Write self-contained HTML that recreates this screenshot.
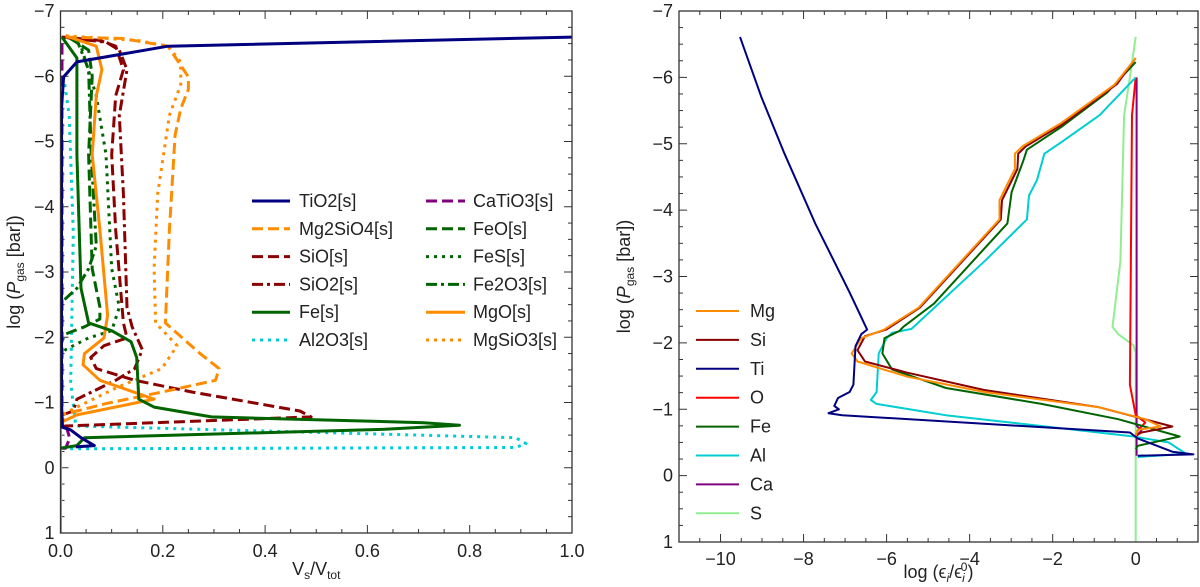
<!DOCTYPE html>
<html><head><meta charset="utf-8"><style>
body{margin:0;background:#fff;}
svg text{font-family:"Liberation Sans","DejaVu Sans",sans-serif;fill:#222;}
</style></head><body>
<svg id="fig" width="1200" height="582" xmlns="http://www.w3.org/2000/svg"></svg>
<script>
// ---------- Left panel data: [V_s/V_tot, log Pgas] ----------
const tio2 = [[1.0,-6.6],[0.21,-6.46],[0.032,-6.22],[0.006,-5.99],[0.002,-5.5],[0.002,-1],[0.004,-0.62],[0.02,-0.58],[0.04,-0.46],[0.066,-0.34],[0.03,-0.32]];
const mg2sio4 = [[0.01,-6.6],[0.12,-6.58],[0.21,-6.46],[0.25,-5.99],[0.25,-5.8],[0.235,-5.5],[0.224,-5.1],[0.213,-3.64],[0.205,-2.22],[0.273,-1.75],[0.31,-1.52],[0.303,-1.34],[0.198,-1.16],[0.092,-0.99],[0.032,-0.87],[0.0,-0.81]];
const sio = [[0.002,-6.6],[0.077,-6.55],[0.108,-6.46],[0.123,-6.1],[0.108,-5.7],[0.1,-4.8],[0.108,-3.64],[0.123,-2.22],[0.13,-1.99],[0.085,-1.87],[0.059,-1.69],[0.07,-1.52],[0.145,-1.34],[0.258,-1.16],[0.468,-0.87],[0.49,-0.78],[0.01,-0.64],[0.0,-0.62]];
const sio2 = [[0.005,-6.6],[0.09,-6.52],[0.115,-6.4],[0.13,-6.1],[0.115,-5.4],[0.123,-4.2],[0.13,-2.46],[0.14,-2.16],[0.16,-1.81],[0.145,-1.52],[0.108,-1.34],[0.032,-1.05],[0.025,-0.87],[0.0,-0.8]];
const fe = [[0.003,-6.6],[0.032,-6.28],[0.032,-4.8],[0.04,-2.75],[0.055,-2.22],[0.1,-2.1],[0.138,-1.93],[0.149,-1.69],[0.153,-1.05],[0.183,-0.93],[0.295,-0.78],[0.71,-0.69],[0.78,-0.65],[0.634,-0.59],[0.047,-0.46],[0.032,-0.34],[0.0,-0.3]];
const al2o3 = [[0.006,-6.0],[0.017,-5.4],[0.025,-3.6],[0.02,-1.3],[0.03,-0.64],[0.89,-0.46],[0.91,-0.37],[0.89,-0.31],[0.017,-0.29]];
const catio3 = [[0.003,-6.5],[0.003,-0.7],[0.012,-0.62],[0.018,-0.45],[0.01,-0.3],[0.003,-0.3]];
const feo = [[0.015,-6.6],[0.055,-6.4],[0.062,-6.0],[0.055,-4.8],[0.062,-3.05],[0.077,-2.46],[0.077,-2.28],[0.047,-2.16],[0.01,-2.05],[0.0,-1.9]];
const fes = [[0.02,-6.6],[0.04,-6.46],[0.07,-5.7],[0.089,-4.8],[0.1,-3.05],[0.115,-2.46],[0.1,-2.1],[0.055,-1.99],[0.01,-1.81],[0.0,-1.7]];
const fe2o3 = [[0.03,-6.6],[0.055,-6.1],[0.06,-4.8],[0.07,-3.4],[0.055,-3.05],[0.032,-2.75],[0.0,-2.52]];
const mgo = [[0.01,-6.62],[0.07,-6.46],[0.081,-6.1],[0.07,-5.7],[0.062,-4.8],[0.077,-3.64],[0.092,-2.34],[0.085,-1.99],[0.047,-1.75],[0.044,-1.58],[0.077,-1.34],[0.183,-1.05],[0.032,-0.81],[0.0,-0.69],[0.0,1.0]];
const mgsio3 = [[0.01,-6.62],[0.15,-6.55],[0.21,-6.46],[0.235,-6.22],[0.235,-5.87],[0.213,-5.4],[0.19,-4.2],[0.183,-3.05],[0.186,-2.22],[0.228,-1.87],[0.198,-1.52],[0.108,-1.22],[0.032,-0.93],[0.0,-0.8]];
// ---------- Right panel data: [log eps/eps0, log Pgas] ----------
const elTi = [[-9.53,-6.61],[-9.02,-5.71],[-8.46,-4.85],[-7.72,-3.8],[-6.89,-2.76],[-6.47,-2.2],[-6.61,-2.13],[-6.75,-1.95],[-6.8,-1.37],[-6.89,-1.26],[-7.17,-1.17],[-7.26,-1.05],[-7.15,-1.0],[-7.4,-0.94],[-7.07,-0.91],[-0.14,-0.65],[0.05,-0.56],[0.88,-0.36],[1.39,-0.32],[0.05,-0.30]];
const elMg = [[0,-6.29],[-0.51,-5.89],[-1.8,-5.31],[-2.73,-4.96],[-2.91,-4.85],[-2.91,-4.62],[-3.28,-4.15],[-3.28,-3.86],[-5.23,-2.53],[-6.06,-2.2],[-6.61,-2.07],[-6.84,-1.84],[-6.7,-1.72],[-5.5,-1.49],[-3.65,-1.26],[-0.88,-1.03],[0.23,-0.85],[0.6,-0.74],[0.05,-0.69],[0,-0.6]];
const elSi = [[0,-6.29],[-0.45,-5.9],[-1.75,-5.3],[-2.65,-4.96],[-2.83,-4.85],[-2.85,-4.62],[-3.22,-4.15],[-3.25,-3.86],[-5.2,-2.53],[-6.01,-2.2],[-6.52,-2.1],[-6.7,-1.89],[-6.52,-1.72],[-5.5,-1.55],[-3.65,-1.29],[-0.88,-1.03],[0.88,-0.74],[0.14,-0.65],[0,-0.6]];
const elFe = [[0,-6.23],[-0.69,-5.77],[-1.8,-5.25],[-2.62,-4.91],[-2.71,-4.74],[-2.99,-4.27],[-3.09,-3.8],[-4.86,-2.59],[-5.6,-2.24],[-5.69,-2.18],[-6.05,-2.07],[-6.1,-1.84],[-5.87,-1.6],[-4.57,-1.32],[-2.27,-1.08],[-0.42,-0.85],[1.06,-0.59],[0.05,-0.45],[0,-0.4]];
const elAl = [[0,-6.0],[-0.87,-5.43],[-1.8,-5.02],[-2.2,-4.85],[-2.38,-4.45],[-2.57,-4.22],[-2.62,-3.86],[-3.64,-3.23],[-5.4,-2.21],[-5.87,-2.15],[-6.0,-2.07],[-6.19,-1.84],[-6.24,-1.26],[-6.38,-1.14],[-6.24,-1.08],[-4.58,-0.91],[-0.05,-0.59],[0.79,-0.5],[1.21,-0.33],[0.05,-0.28]];
const elO = [[0,-6.0],[-0.09,-5.43],[-0.14,-1.37],[0,-0.91],[0.23,-0.8],[0.05,-0.68],[0,-0.6]];
const elCa = [[0.02,-6.0],[0.02,-0.75],[0.14,-0.68],[0.02,-0.6],[0.02,-0.3]];
const elS = [[0,-6.61],[-0.14,-6.0],[-0.28,-5.43],[-0.37,-3.23],[-0.56,-2.24],[-0.42,-2.13],[-0.05,-1.96],[0,-1.85],[0,1.0]];

const leftTicksX = [0,0.2,0.4,0.6,0.8,1.0];
const leftTickLabelsX = ["0.0","0.2","0.4","0.6","0.8","1.0"];
const rightTicksX = [-10,-8,-6,-4,-2,0];
const rightTickLabelsX = ["\u221210","\u22128","\u22126","\u22124","\u22122","0"];
const ticksY = [-7,-6,-5,-4,-3,-2,-1,0,1];
const tickLabelsY = ["\u22127","\u22126","\u22125","\u22124","\u22123","\u22122","\u22121","0","1"];

const NS="http://www.w3.org/2000/svg";
const svg=document.getElementById('fig');
function mk(tag,attrs,parent){const e=document.createElementNS(NS,tag);for(const k in attrs)e.setAttribute(k,attrs[k]);(parent||svg).appendChild(e);return e;}

function panel(name,L,R,T,B,xmin,xmax,ymin,ymax,xt,xtl,xminor,xtitle,xtitleY,ytitleX,tlY){
  const g=mk('g',{});
  
  
  const sx=v=>L+(v-xmin)/(xmax-xmin)*(R-L);
  const sy=v=>T+(v-ymin)/(ymax-ymin)*(B-T);
  for(let v=xmin;v<=xmax+1e-9;v+=xminor){const x=sx(v);const major=xt.some(t=>Math.abs(t-v)<1e-6);const len=major?8:4;
    mk('line',{x1:x,y1:B,x2:x,y2:B-len,stroke:'#333','stroke-width':1},g);mk('line',{x1:x,y1:T,x2:x,y2:T+len,stroke:'#333','stroke-width':1},g);}
  for(let v=ymin;v<=ymax+1e-9;v+=0.25){const y=sy(v);const major=Math.abs(v-Math.round(v))<1e-6;const len=major?8:4;
    mk('line',{x1:L,y1:y,x2:L+len,y2:y,stroke:'#333','stroke-width':1},g);mk('line',{x1:R,y1:y,x2:R-len,y2:y,stroke:'#333','stroke-width':1},g);}
  xt.forEach((v,i)=>{const t=mk('text',{x:sx(v),y:tlY,'text-anchor':'middle','font-size':18},g);t.textContent=xtl[i];
    
    });
  ticksY.forEach((v,i)=>{const t=mk('text',{x:L-6,y:sy(v)+6,'text-anchor':'end','font-size':18},g);t.textContent=tickLabelsY[i];
    
    });
  const xtEl=mk('text',{x:(L+R)/2,y:xtitleY,'text-anchor':'middle','font-size':18},g);xtEl.innerHTML=xtitle;
  
  
  const ytEl=mk('text',{x:0,y:0,'text-anchor':'middle','font-size':18,transform:`translate(${ytitleX},${(T+B)/2}) rotate(-90)`},g);
  ytEl.innerHTML='log (<tspan font-style="italic">P</tspan><tspan font-size="12" dy="4">gas</tspan><tspan dy="-4"> [bar])</tspan>';
  
  
  const clip=mk('clipPath',{id:name+'-clip'},g);mk('rect',{x:L,y:T,width:R-L,height:B-T},clip);
  const sg=mk('g',{'clip-path':`url(#${name}-clip)`},g);
  mk('rect',{x:L,y:T,width:R-L,height:B-T,fill:'none',stroke:'#333','stroke-width':1.3},g);
  return {sx,sy,sg,g};
}
function series(p,data,color,w,dash,name){
  const d=data.map((pt,i)=>(i?'L':'M')+p.sx(pt[0]).toFixed(1)+','+p.sy(pt[1]).toFixed(1)).join('');
  const e=mk('path',{d:d,fill:'none',stroke:color,'stroke-width':w,'stroke-dasharray':dash||'none','stroke-linejoin':'round'},p.sg);
  
  
}
const C={navy:'#000080',orange:'#ff8c00',dred:'#8b0000',green:'#006400',cyan:'#00ced1',purple:'#800080',red:'#ff0000',lgreen:'#90ee90'};
const DASH='11,5',DOT='3,5',DD='11,4,3,4';

const pl=panel('left-panel',60.5,572,11,533,0,1,-7,1,leftTicksX,leftTickLabelsX,0.05,'V<tspan font-size="12" dy="4">s</tspan><tspan dy="-4">/V</tspan><tspan font-size="12" dy="4">tot</tspan>',575,20,557);
series(pl,al2o3,C.cyan,3,DOT,'al2o3-line');
series(pl,catio3,C.purple,3,DASH,'catio3-line');
series(pl,fe2o3,C.green,3,DD,'fe2o3-line');
series(pl,fes,C.green,3,DOT,'fes-line');
series(pl,feo,C.green,3,DASH,'feo-line');
series(pl,sio2,C.dred,3,DD,'sio2-line');
series(pl,sio,C.dred,3,DASH,'sio-line');
series(pl,mgsio3,C.orange,3,DOT,'mgsio3-line');
series(pl,mg2sio4,C.orange,3,DASH,'mg2sio4-line');
series(pl,mgo,C.orange,3,null,'mgo-line');
series(pl,fe,C.green,3,null,'fe-line');
series(pl,tio2,C.navy,3,null,'tio2-line');

const pr=panel('right-panel',679,1198,11,542,-11,1.5,-7,1,rightTicksX,rightTickLabelsX,0.5,'log (\u03f5<tspan font-style="italic" font-size="12" dy="4">i</tspan><tspan dy="-4">/\u03f5</tspan><tspan font-style="italic" font-size="12" dy="4">i</tspan><tspan font-size="12" dy="-11" dx="-4">0</tspan><tspan dy="7">)</tspan>',578,630,565);
series(pr,elS,C.lgreen,2,null,'s-line');
series(pr,elCa,C.purple,2,null,'ca-line');
series(pr,elO,C.red,2,null,'o-line');
series(pr,elAl,C.cyan,2,null,'al-line');
series(pr,elFe,C.green,2,null,'fe-element-line');
series(pr,elSi,C.dred,2,null,'si-line');
series(pr,elMg,C.orange,2,null,'mg-line');
series(pr,elTi,C.navy,2,null,'ti-line');

function legendEntry(x1,x2,tx,y,color,w,dash,label){
  const g=mk('g',{});
  
  
  mk('line',{x1:x1,y1:y,x2:x2,y2:y,stroke:color,'stroke-width':w,'stroke-dasharray':dash||'none'},g);
  const t=mk('text',{x:tx,y:y+6,'font-size':18},g);t.textContent=label;
}
const leftLeg=[['TiO2[s]',C.navy,null],['Mg2SiO4[s]',C.orange,DASH],['SiO[s]',C.dred,DASH],['SiO2[s]',C.dred,DD],['Fe[s]',C.green,null],['Al2O3[s]',C.cyan,DOT]];
const leftLeg2=[['CaTiO3[s]',C.purple,DASH],['FeO[s]',C.green,DASH],['FeS[s]',C.green,DOT],['Fe2O3[s]',C.green,DD],['MgO[s]',C.orange,null],['MgSiO3[s]',C.orange,DOT]];
leftLeg.forEach((e,i)=>legendEntry(252,290,299,201+i*27.8,e[1],3,e[2],e[0]));
leftLeg2.forEach((e,i)=>legendEntry(426,465,473,201+i*27.8,e[1],3,e[2],e[0]));
const rightLeg=[['Mg',C.orange],['Si',C.dred],['Ti',C.navy],['O',C.red],['Fe',C.green],['Al',C.cyan],['Ca',C.purple],['S',C.lgreen]];
rightLeg.forEach((e,i)=>legendEntry(696,739,750,311+i*28.9,e[1],2,null,e[0]));
</script>
</body></html>
